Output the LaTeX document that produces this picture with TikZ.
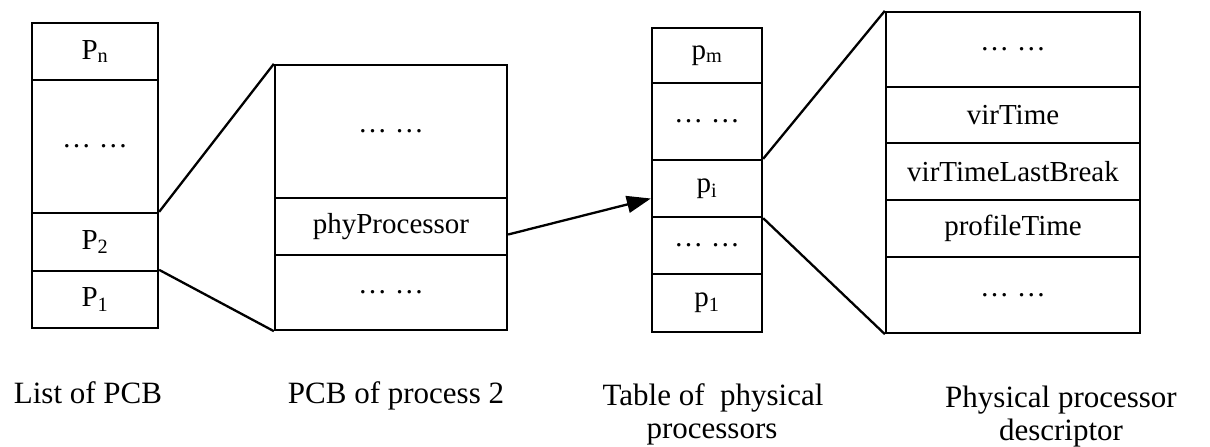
\documentclass[tikz,border=0pt]{standalone}
\usepackage{fontspec}
\setmainfont{Liberation Serif}
\usetikzlibrary{arrows.meta,calc}
\newcommand{\dd}{…\hspace{8pt}…}
\begin{document}
\begin{tikzpicture}[x=1pt,y=-1pt,
  cell/.style={draw,line width=2.3pt,inner sep=0pt,anchor=center,font=\fontsize{29}{34}\selectfont},
  conn/.style={line width=2.3pt},
  lbl/.style={anchor=base,inner sep=0pt,font=\fontsize{31}{36}\selectfont}]
\useasboundingbox (0,0) rectangle (1210,447);
% Box 1: List of PCB
\node[cell,minimum width=126pt,minimum height=57pt] (pn) at (95,51.5) {P\textsubscript{n}};
\node[cell,minimum width=126pt,minimum height=133pt] (b1d) at (95,146.5) {\dd};
\node[cell,minimum width=126pt,minimum height=58pt] (p2) at (95,242) {P\textsubscript{2}};
\node[cell,minimum width=126pt,minimum height=57pt] (p1) at (95,299.5) {P\textsubscript{1}};
% Box 2: PCB of process 2
\node[cell,minimum width=232pt,minimum height=133pt] (b2t) at (391,131.5) {\dd};
\node[cell,minimum width=232pt,minimum height=57pt] (phy) at (391,226.5) {phyProcessor};
\node[cell,minimum width=232pt,minimum height=75pt] (b2b) at (391,292.5) {\dd};
% Box 3: Table of physical processors
\node[cell,minimum width=110pt,minimum height=55pt] (pm) at (707,55.5) {p\textsubscript{m}};
\node[cell,minimum width=110pt,minimum height=77pt] (b3d1) at (707,121.5) {\dd};
\node[cell,minimum width=110pt,minimum height=57pt] (pi) at (707,188.5) {p\textsubscript{i}};
\node[cell,minimum width=110pt,minimum height=57pt] (b3d2) at (707,245.5) {\dd};
\node[cell,minimum width=110pt,minimum height=58pt] (pl) at (707,303) {p\textsubscript{1}};
% Box 4: Physical processor descriptor
\node[cell,minimum width=254pt,minimum height=75pt] (b4t) at (1013,49.5) {\dd};
\node[cell,minimum width=254pt,minimum height=56pt] (vt) at (1013,115) {virTime};
\node[cell,minimum width=254pt,minimum height=57pt] (vtl) at (1013,171.5) {virTimeLastBreak};
\node[cell,minimum width=254pt,minimum height=57pt] (pt) at (1013,228.5) {profileTime};
\node[cell,minimum width=254pt,minimum height=76pt] (b4b) at (1013,295) {\dd};
% connectors
\draw[conn] (p2.north east) -- (b2t.north west);
\draw[conn] (p1.north east) -- (b2b.south west);
\draw[conn] (pi.north east) -- (b4t.north west);
\draw[conn] (pi.south east) -- (b4b.south west);
\draw[conn,-{Triangle[length=24pt,width=17pt]}] ($(phy.east)+(0,8)$) -- ($(pi.west)+(0,10)$);
% labels
\node[lbl] (l1) at (88,403) {List of PCB};
\node[lbl] (l2) at (396,403) {PCB of process 2};
\node[lbl] (l3a) at (713,405) {Table of\ \ physical};
\node[lbl] (l3b) at (712,438) {processors};
\node[lbl] (l4a) at (1061,407) {Physical processor};
\node[lbl] (l4b) at (1061,440) {descriptor};
\end{tikzpicture}
\end{document}
